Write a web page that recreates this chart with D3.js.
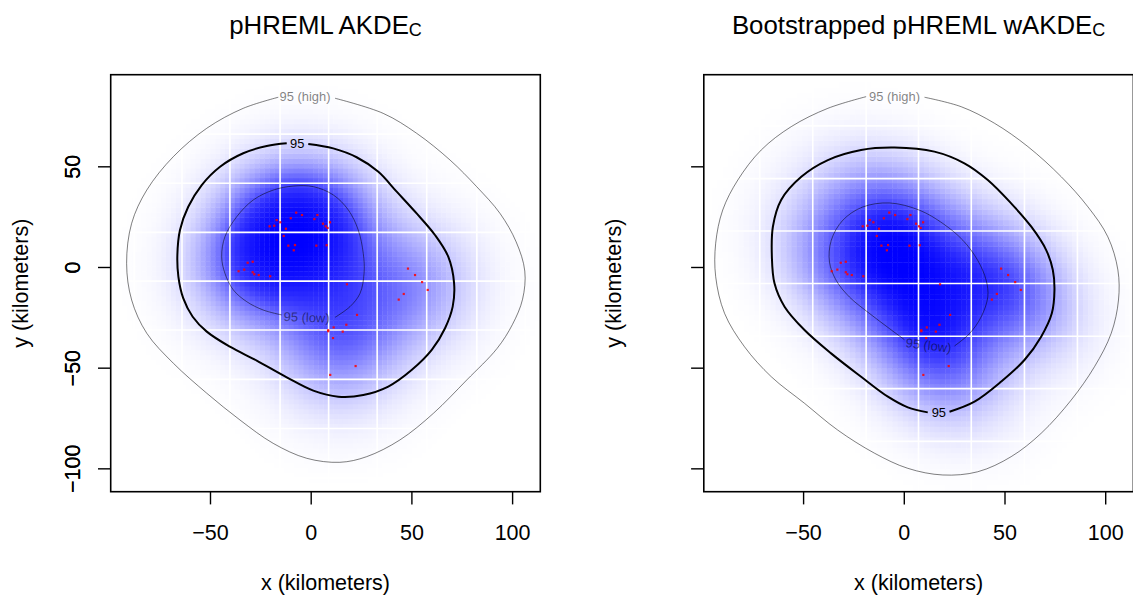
<!DOCTYPE html>
<html>
<head>
<meta charset="utf-8">
<script src="https://cdn.jsdelivr.net/npm/d3@7"></script>
<style>
  body { margin: 0; background: #fff; }
  text { font-family: "Liberation Sans", Arial, Helvetica, sans-serif; }
</style>
</head>
<body>
<svg width="1133" height="601"></svg>
<script>
// ---- data (km) ----
const titles = ["pHREML AKDE", "Bootstrapped pHREML wAKDE"];
const titleSub = "C";
const xTicks = [-50, 0, 50, 100];
const yTicks = [-100, -50, 0, 50];
const xLabel = "x (kilometers)";
const yLabel = "y (kilometers)";
const levelNames = ["95 (high)", "95", "95 (low)"];

// telemetry locations
const locX = [-7.2,-4.3,3.3,1.8,-9.9,-16.9,-15.1,-18.1,-20.4,-12.3,6.1,7.5,8.4,9.6,-13.4,-11.1,-7.8,-8.4,2.8,7.9,
  -28.8,-31.3,-33.0,-35.8,-28.8,-28.0,-25.8,-20.1,18.0,48.3,51.8,55.3,58.1,46.2,43.7,23.0,17.7,11.4,15.9,8.7,8.7,11.1,22.3,9.7];
const locY = [27.0,25.8,25.8,23.8,24.2,23.3,22.2,20.5,20.2,19.0,21.5,20.2,19.4,22.2,15.4,10.6,10.9,8.3,10.6,10.8,
  2.6,2.1,-1.3,-2.1,-2.6,-3.6,-4.0,-4.6,-8.6,-0.8,-4.0,-7.5,-11.4,-13.4,-16.2,-23.8,-28.7,-30.0,-32.1,-31.4,-31.9,-35.3,-49.2,-53.6];

// contour vertices, left panel (AKDE)
const highA = [[12.1,83.8],[36.0,76.3],[52.6,66.4],[69.2,53.1],[82.4,39.9],[94.0,26.6],[102.0,12.5],[106.3,-2.0],[105.2,-16.0],[100.2,-28.5],[92.5,-40.5],[77.5,-56.1],[60.9,-72.7],[44.3,-85.9],[27.8,-94.2],[14.5,-97.0],[-2.0,-95.0],[-18.6,-87.6],[-35.1,-76.0],[-51.6,-62.7],[-68.2,-47.8],[-81.4,-32.9],[-88.9,-16.4],[-91.4,1.8],[-88.9,21.7],[-81.4,38.2],[-68.2,54.8],[-51.6,68.9],[-33.5,78.8],[-16.1,84.3]];
const estA = [[-1.2,61.1],[11.2,58.9],[22.8,54.5],[33.6,47.3],[42.7,37.4],[52.6,26.6],[61.7,15.9],[68.3,5.1],[71.2,-8.1],[70.5,-19.7],[66.7,-30.4],[60.1,-41.2],[50.1,-51.2],[38.5,-59.4],[26.1,-63.6],[13.7,-64.4],[1.3,-61.4],[-11.9,-54.8],[-26.8,-46.5],[-40.1,-39.6],[-51.6,-32.1],[-58.6,-24.7],[-63.3,-15.5],[-65.7,-4.8],[-66.2,6.0],[-64.9,18.4],[-60.8,29.9],[-54.1,40.7],[-45.0,49.8],[-33.5,56.5],[-21.8,60.1],[-11.9,61.4]];
const lowA = [[12.1,-25.0],[19.5,-19.7],[24.5,-13.1],[26.5,-3.1],[26.1,6.8],[23.6,18.4],[18.7,28.3],[11.2,35.8],[1.3,39.9],[-8.6,40.2],[-18.6,38.2],[-28.5,33.3],[-36.7,25.0],[-42.6,15.0],[-44.2,5.1],[-42.6,-3.1],[-38.4,-11.4],[-31.8,-17.2],[-23.5,-21.4],[-14.4,-23.8]];
const labelsA = [[-2.8,84.6,0],[-6.7,61.4,0],[-2.0,-25.0,2]];

// contour vertices, right panel (bootstrapped wAKDE)
const highB = [[10.3,84.3],[28.5,79.6],[45.0,71.4],[61.6,59.8],[78.2,44.8],[91.4,29.9],[101.3,15.0],[106.3,-1.5],[106.6,-16.4],[103.0,-32.9],[94.7,-49.5],[83.1,-66.1],[68.2,-82.6],[53.3,-94.2],[36.7,-101.7],[19.4,-103.3],[2.0,-100.0],[-14.5,-92.5],[-32.8,-81.0],[-49.3,-67.7],[-65.8,-54.5],[-79.1,-39.6],[-89.0,-23.0],[-93.4,-4.8],[-93.4,11.8],[-89.9,28.3],[-82.4,43.2],[-70.8,58.1],[-55.9,69.7],[-37.7,78.8],[-18.7,84.6]];
const estB = [[22.7,-71.9],[35.1,-66.9],[48.4,-56.9],[59.9,-46.2],[68.2,-34.6],[73.5,-23.0],[74.8,-11.4],[74.0,-1.5],[70.7,8.4],[63.3,20.0],[53.3,31.6],[41.7,43.2],[30.1,51.5],[15.2,57.3],[-4.6,59.3],[-21.2,58.1],[-37.7,53.1],[-50.9,44.8],[-60.9,33.3],[-65.0,20.0],[-65.5,5.1],[-64.2,-8.1],[-59.2,-19.7],[-49.3,-31.3],[-36.1,-42.9],[-21.2,-54.5],[-7.9,-64.4],[2.0,-69.7],[11.9,-72.2]];
const lowB = [[25.2,-39.2],[32.6,-33.1],[38.4,-24.8],[41.7,-14.9],[40.9,-6.6],[36.7,3.3],[29.3,13.3],[19.4,21.6],[7.8,28.2],[-7.1,31.8],[-20.4,29.8],[-30.3,23.2],[-36.0,13.3],[-36.9,2.5],[-33.6,-6.6],[-27.0,-14.9],[-17.0,-23.1],[-7.1,-30.6],[0.3,-36.1]];
const labelsB = [[-4.6,84.6,0],[17.4,-72.4,0],[12.3,-38.9,7]];

// white grid lines over the raster
const gridXA = [-87.6,-63.9,-40.1,-15.2,8.9,33.0,57.6,82.5,106.6];
const gridYA = [90.4,66.0,41.6,17.2,-7.0,-31.3,-55.8,-80.2,-104.6];
const gridXB = [-97.8,-71.5,-45.2,-18.7,7.3,33.5,59.9,86.2,112.5];
const gridYB = [96.0,70.1,43.9,17.9,-8.2,-34.4,-60.4,-86.6];

// ---- layout ----
const xDom = [-99.3, 114.0], yDom = [-111.6, 95.5];
const plotW = 429.6, plotTop = 74.7, plotBottom = 491.7;
const panels = [
  { left: 110.7, title: titles[0], high: highA, est: estA, low: lowA, labels: labelsA,
    gx: gridXA, gy: gridYA, cell: 2.44, bw: { sx: 21, sy: 21, rho: 0 }, wPow: 0, fade: 1.5 },
  { left: 703.8, title: titles[1], high: highB, est: estB, low: lowB, labels: labelsB,
    gx: gridXB, gy: gridYB, cell: 2.63, bw: { sx: 22, sy: 22, rho: -0.3 }, wPow: 1, fade: 1.5 }
];

const svg = d3.select("svg");

function kde(cx, cy, w, bw) {
  const a = bw.sx * bw.sx, b = bw.rho * bw.sx * bw.sy, c = bw.sy * bw.sy;
  const det = a * c - b * b;
  const ia = c / det, ib = -b / det, ic = a / det;
  let s = 0;
  for (let k = 0; k < locX.length; k++) {
    const dx = cx - locX[k], dy = cy - locY[k];
    s += w[k] * Math.exp(-0.5 * (ia * dx * dx + 2 * ib * dx * dy + ic * dy * dy));
  }
  return s;
}

// pilot density (unweighted) used for the weighted estimate
const ones = locX.map(() => 1);
const pilot = locX.map((x, k) => kde(x, locY[k], ones, { sx: 15, sy: 15, rho: 0 }));

panels.forEach((p, pi) => {
  const x = d3.scaleLinear().domain(xDom).range([p.left, p.left + plotW]);
  const y = d3.scaleLinear().domain(yDom).range([plotBottom, plotTop]);
  const g = svg.append("g");

  const clipId = "clip" + pi;
  g.append("clipPath").attr("id", clipId)
    .append("rect").attr("x", p.left).attr("y", plotTop)
    .attr("width", plotW).attr("height", plotBottom - plotTop);
  const inner = g.append("g").attr("clip-path", `url(#${clipId})`);

  // density raster, shaded by cumulative probability
  const w = pilot.map(v => Math.pow(v, -p.wPow));
  const ox = p.gx[2], oy = p.gy[4], cs = p.cell;
  const i0 = Math.floor((xDom[0] - ox) / cs) - 1, i1 = Math.ceil((xDom[1] - ox) / cs) + 1;
  const j0 = Math.floor((yDom[0] - oy) / cs) - 1, j1 = Math.ceil((yDom[1] - oy) / cs) + 1;
  const cells = [];
  for (let i = i0; i < i1; i++) {
    for (let j = j0; j < j1; j++) {
      const cx = ox + (i + 0.5) * cs, cy = oy + (j + 0.5) * cs;
      cells.push({ x0: ox + i * cs, y0: oy + j * cs, f: kde(cx, cy, w, p.bw) });
    }
  }
  const total = d3.sum(cells, d => d.f);
  const sorted = cells.slice().sort((a, b) => b.f - a.f);
  let acc = 0;
  sorted.forEach(d => { d.a = 1 - Math.pow(acc / total, p.fade); acc += d.f; });
  const col = d3.interpolateRgb("#ffffff", "#0000ff");

  inner.append("g").selectAll("rect")
    .data(cells.filter(d => d.a > 0.003))
    .join("rect")
    .attr("x", d => x(d.x0))
    .attr("y", d => y(d.y0 + cs))
    .attr("width", x(cs) - x(0) + 0.4)
    .attr("height", y(0) - y(cs) + 0.4)
    .attr("fill", d => col(d.a));

  // white grid
  inner.append("g").selectAll("line.gx").data(p.gx).join("line")
    .attr("x1", d => x(d)).attr("x2", d => x(d))
    .attr("y1", plotTop).attr("y2", plotBottom)
    .attr("stroke", "#fff").attr("stroke-width", 1.6);
  inner.append("g").selectAll("line.gy").data(p.gy).join("line")
    .attr("y1", d => y(d)).attr("y2", d => y(d))
    .attr("x1", p.left).attr("x2", p.left + plotW)
    .attr("stroke", "#fff").attr("stroke-width", 1.6);

  // contours
  const line = d3.line().x(d => x(d[0])).y(d => y(d[1])).curve(d3.curveCatmullRom.alpha(0.5));
  const levels = [
    { pts: p.high, width: 1, op: 0.5 },
    { pts: p.est, width: 2, op: 1 },
    { pts: p.low, width: 1, op: 0.5 }
  ];
  inner.append("g").selectAll("path").data(levels).join("path")
    .attr("d", d => line(d.pts))
    .attr("fill", "none")
    .attr("stroke", "#000")
    .attr("stroke-opacity", d => d.op)
    .attr("stroke-width", d => d.width);

  inner.append("g").selectAll("text").data(p.labels).join("text")
    .attr("transform", d => `translate(${x(d[0])},${y(d[1])}) rotate(${d[2]})`)
    .attr("text-anchor", "middle")
    .attr("dy", "0.35em")
    .attr("font-size", 12.9)
    .attr("fill", "#000")
    .attr("fill-opacity", (d, i) => levels[i].op)
    .text((d, i) => levelNames[i]);

  // locations
  inner.append("g").selectAll("rect").data(locX).join("rect")
    .attr("x", (d, k) => x(d) - 1.1)
    .attr("y", (d, k) => y(locY[k]) - 1.1)
    .attr("width", 2.2).attr("height", 2.2)
    .attr("fill", "#ff0000").attr("fill-opacity", 0.85);

  // box
  g.append("rect").attr("x", p.left).attr("y", plotTop)
    .attr("width", plotW).attr("height", plotBottom - plotTop)
    .attr("fill", "none").attr("stroke", "#000").attr("stroke-width", 1.6);

  // axes
  const xa = g.append("g").attr("transform", `translate(0,${plotBottom})`)
    .call(d3.axisBottom(x).tickValues(xTicks).tickSize(12.7).tickPadding(19)
      .tickFormat(d => d < 0 ? "\u2212" + Math.abs(d) : d));
  const ya = g.append("g").attr("transform", `translate(${p.left},0)`)
    .call(d3.axisLeft(y).tickValues(yTicks).tickSize(12.7)
      .tickFormat(d => d < 0 ? "\u2212" + Math.abs(d) : d));
  [xa, ya].forEach(a => {
    a.select(".domain").remove();
    a.selectAll(".tick line").attr("stroke", "#000").attr("stroke-width", 1.4);
    a.selectAll(".tick text").attr("font-size", 21.5).attr("fill", "#000")
      .attr("font-family", "Liberation Sans, Arial, sans-serif");
  });
  xa.selectAll(".tick text").attr("dy", null).attr("y", 48.3);
  ya.selectAll(".tick text")
    .attr("x", null).attr("dy", null).attr("y", null)
    .attr("text-anchor", "middle")
    .attr("transform", `translate(${80 - p.left},0) rotate(-90)`);

  // axis titles
  const cxMid = p.left + plotW / 2;
  g.append("text").attr("x", cxMid).attr("y", 590)
    .attr("text-anchor", "middle").attr("font-size", 21.5).text(xLabel);
  g.append("text")
    .attr("transform", `translate(${p.left - 82.7},${(plotTop + plotBottom) / 2}) rotate(-90)`)
    .attr("text-anchor", "middle").attr("font-size", 21.5).text(yLabel);

  // panel title with subscript
  const t = g.append("text").attr("x", cxMid).attr("y", 33.7)
    .attr("text-anchor", "middle").attr("font-size", 25.8);
  t.append("tspan").text(p.title);
  t.append("tspan").attr("font-size", 18).attr("dy", 2.7).text(titleSub);
});
</script>
</body>
</html>
